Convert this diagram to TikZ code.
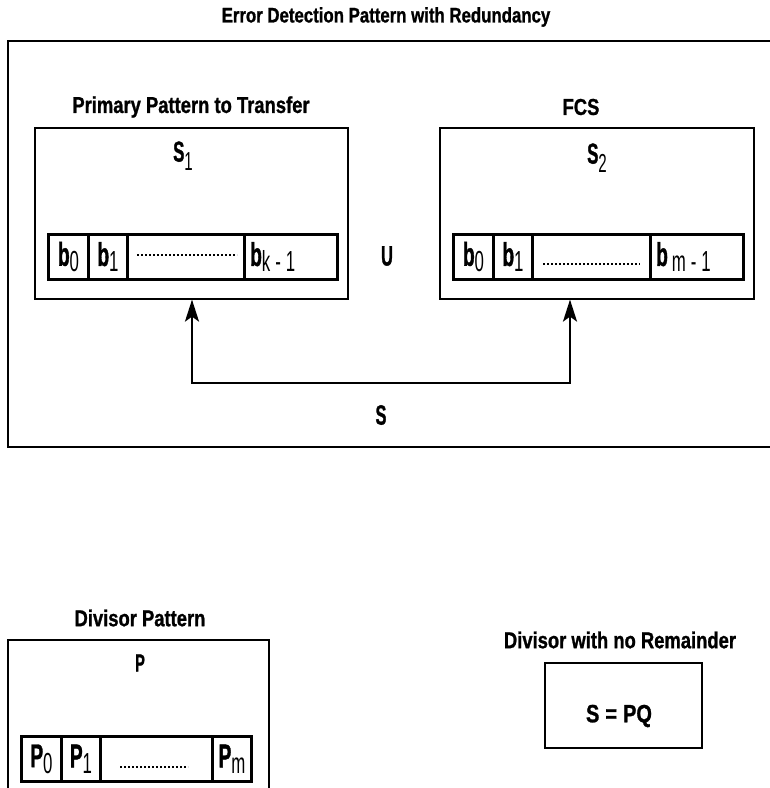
\documentclass[tikz,border=0pt]{standalone}
\usepackage{fontspec}
\setmainfont{Liberation Sans}[FakeStretch=0.8, BoldFeatures={FakeBold=1}]
\newfontfamily\fC{Liberation Sans}[FakeStretch=0.58, BoldFeatures={FakeBold=1}]
\newfontfamily\fN{Liberation Sans}[FakeStretch=0.58]
\usetikzlibrary{arrows.meta}
% cell label: bold letter, lowered regular subscript
\newcommand{\cb}[2]{{\bfseries\fC #1}\raisebox{-6pt}{\fN\fontsize{29}{30}\selectfont #2}}
\newcommand{\slab}[2]{{\bfseries\fC #1}\raisebox{-9pt}{\fN\fontsize{26}{27}\selectfont #2}}
\tikzset{
  ttl/.style={font=\bfseries\fontsize{21}{24}\selectfont, inner sep=0pt},
  sub/.style={font=\bfseries\fontsize{23}{26}\selectfont, inner sep=0pt},
  lbl/.style={font=\fC\bfseries\fontsize{28}{30}\selectfont, inner sep=0pt},
  slbl/.style={font=\fC\fontsize{29}{30}\selectfont, inner sep=0pt},
  frame/.style={draw, line width=1.6pt},
  cell/.style={draw, line width=3pt, minimum height=45pt, inner sep=0pt, anchor=north west, font=\fontsize{33}{34}\selectfont},
  ctext/.style={inner sep=0pt, anchor=west, font=\fontsize{33}{34}\selectfont},
  dotline/.style={line width=2.2pt, dash pattern=on 1.8pt off 2.2pt},
  conn/.style={line width=2.4pt, {Stealth[length=22pt,width=14pt,inset=5pt]}-{Stealth[length=22pt,width=14pt,inset=5pt]}}
}
\begin{document}
\begin{tikzpicture}[x=1pt,y=-1pt]
\useasboundingbox (0,0) rectangle (770,788);
\begin{scope}
\clip (0,0) rectangle (770,788);
% outer frame top
\draw[frame] (775,41) -- (8,41) -- (8,447) -- (775,447);
% divisor frame
\draw[frame] (8,795) -- (8,640) -- (269,640) -- (269,795);
\end{scope}

\node[ttl] (title) at (386,17) {Error Detection Pattern with Redundancy};

% S1 box
\node[frame, minimum width=313pt, minimum height=171pt, anchor=north west, inner sep=0pt] (s1box) at (34,127) {};
\node[sub] (s1t) at (191,107) {Primary Pattern to Transfer};
\node[slbl] (s1l) at (183,156) {\slab{S}{1}};
\node[cell, minimum width=40pt] (a0) at (47,233) {\cb{b}{0}};
\node[cell, minimum width=39pt] (a1) at (87,233) {\cb{b}{1}};
\node[cell, minimum width=117pt] (a2) at (126,233) {};
\node[cell, minimum width=93pt] (a3) at (243,233) {};
\node[ctext] (a3t) at ([xshift=7pt]a3.west) {\cb{b}{k\hspace{5pt}-\hspace{5pt}1}};
\draw[dotline] ([xshift=11pt,yshift=2pt]a2.center -| a2.west) -- ([xshift=-9pt,yshift=2pt]a2.center -| a2.east);

\node[lbl] (u) at (387,256) {U};

% S2 box
\node[frame, minimum width=314pt, minimum height=171pt, anchor=north west, inner sep=0pt] (s2box) at (439,127) {};
\node[sub] (s2t) at (581,107) {FCS};
\node[slbl] (s2l) at (597,158) {\slab{S}{2}};
\node[cell, minimum width=40pt] (c0) at (452,233) {\cb{b}{0}};
\node[cell, minimum width=39pt] (c1) at (492,233) {\cb{b}{1}};
\node[cell, minimum width=118pt] (c2) at (531,233) {};
\node[cell, minimum width=93pt] (c3) at (649,233) {};
\node[ctext] (c3t) at ([xshift=7pt]c3.west) {\cb{b}{\hspace{4pt}m\hspace{5pt}-\hspace{5pt}1}};
\draw[dotline] ([xshift=12pt,yshift=-7pt]c2.center -| c2.west) -- ([xshift=-12pt,yshift=-7pt]c2.center -| c2.east);

% connector
\coordinate (p1) at (s1box.south -| 192,0);
\coordinate (p2) at (s2box.south -| 570,0);
\draw[conn] (p1) -- (192,383) -- (570,383) -- (p2);
\node[lbl] (s) at (381,415) {S};

% divisor pattern
\node[sub] (dt) at (140,618) {Divisor Pattern};
\node[lbl, font=\fC\bfseries\fontsize{25}{26}\selectfont] (pl) at (140,663) {P};
\node[cell, minimum width=40pt] (d0) at (20,735) {\cb{P}{0}};
\node[cell, minimum width=39pt] (d1) at (60,735) {\cb{P}{1}};
\node[cell, minimum width=112pt] (d2) at (99,735) {};
\node[cell, minimum width=39pt] (d3) at (211,735) {\cb{P}{m}};
\draw[dotline] ([xshift=21pt,yshift=-8pt]d2.center -| d2.west) -- ([xshift=-26pt,yshift=-8pt]d2.center -| d2.east);

% no remainder
\node[sub] (rt) at (620,640) {Divisor with no Remainder};
\node[frame, minimum width=157pt, minimum height=85pt, anchor=north west, inner sep=0pt] (rbox) at (544,662) {};
\node[lbl, font=\bfseries\fontsize{25}{28}\selectfont] (eq) at (619,716) {S\hspace{6pt}=\hspace{6pt}PQ};
\end{tikzpicture}
\end{document}
